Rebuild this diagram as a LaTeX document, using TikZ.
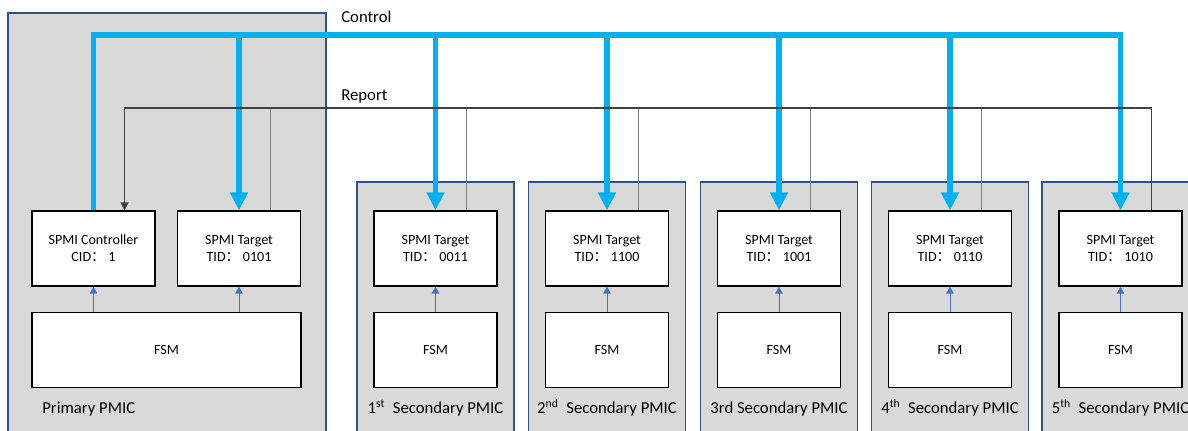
\documentclass[tikz,border=0pt]{standalone}
\usepackage{fontspec}
\setmainfont{Carlito}
\newfontfamily\cjk{Noto Sans CJK SC}
\usetikzlibrary{arrows.meta, positioning, calc}
\definecolor{busblue}{RGB}{0,176,240}
\definecolor{fsmblue}{RGB}{68,114,196}
\definecolor{pmicgray}{RGB}{217,217,217}
\definecolor{pmicedge}{RGB}{47,82,143}
\newcommand{\idsep}{{\cjk ：}}

\tikzset{
  pmicbox/.style={draw=pmicedge, fill=pmicgray, line width=0.6pt},
  blockbox/.style={draw, fill=white, line width=0.7pt, minimum width=2.46cm,
    minimum height=1.5cm, align=center, font=\fontsize{8}{9.5}\selectfont},
  pmiclabel/.style={font=\fontsize{9.5}{11}\selectfont, inner sep=0pt},
  ctrlbus/.style={busblue, line width=3.4pt, line join=miter},
  rptbus/.style={black!75, line width=0.6pt},
  rptdrop/.style={black!50, line width=0.6pt},
  fsmarrow/.style={fsmblue, line width=0.5pt, -{Triangle[length=0.14cm, width=0.15cm]}}
}

\begin{document}
\begin{tikzpicture}[x=0.02cm, y=-0.02cm]
  \useasboundingbox (0,0) rectangle (1188,431);
  \clip (0,0) rectangle (1188,431);
  % Primary PMIC
  \draw[pmicbox] (8,13) rectangle (326,445);
  \node[blockbox] (ctlr) at (93.5,248.5) {SPMI Controller\\CID\idsep\ 1};
  \node[blockbox] (tgt0) at (239,248.5) {SPMI Target\\TID\idsep\ 0101};
  \node[blockbox, minimum width=5.38cm] (fsm0) at (166.5,350) {FSM};
  \node[pmiclabel, anchor=base west] (lbl0) at (42,414) {Primary PMIC};
  \draw[fsmarrow] (fsm0.north -| ctlr.south) -- (ctlr.south);
  \draw[fsmarrow] (fsm0.north -| tgt0.south) -- (tgt0.south);
  % Secondary PMICs
  \foreach \i/\cx/\tid/\lbl in {1/435.5/0011/{1\textsuperscript{st}\ \ Secondary PMIC},
      2/607/1100/{2\textsuperscript{nd}\ \ Secondary PMIC},
      3/779/1001/{3rd Secondary PMIC},
      4/950/0110/{4\textsuperscript{th}\ \ Secondary PMIC},
      5/1120.5/1010/{5\textsuperscript{th}\ \ Secondary PMIC}}{
    \draw[pmicbox] (\cx-78.5,182) rectangle (\cx+78.5,445);
    \node[blockbox] (tgt\i) at (\cx,248.5) {SPMI Target\\TID\idsep\ \tid};
    \node[blockbox] (fsm\i) at (\cx,350) {FSM};
    \node[pmiclabel, anchor=base] (lbl\i) at (\cx,414) {\lbl};
    \draw[fsmarrow] (fsm\i.north) -- (tgt\i.south);
  }
  % Control bus
  \coordinate (cbus) at (0,35);
  \coordinate (rbus) at (0,108);
  \node[pmiclabel, anchor=west] (ctrllabel) at (341,17) {Control};
  \node[pmiclabel, anchor=west] (rptlabel) at (341,96) {Report};
  \draw[ctrlbus, -{Triangle[length=0.36cm, width=0.34cm]}]
    (ctlr.north) -- (ctlr.north |- cbus) -- (tgt5.north |- cbus) -- (tgt5.north);
  \foreach \i in {0,...,4}
    \draw[ctrlbus, -{Triangle[length=0.36cm, width=0.34cm]}] (tgt\i.north |- cbus) -- (tgt\i.north);
  % Report bus
  \coordinate (rin) at ($(ctlr.north)!0.5!(ctlr.north east)$);
  \foreach \i in {0,...,5}
    \coordinate (rout\i) at ($(tgt\i.north)!0.5!(tgt\i.north east)$);
  \foreach \i in {0,...,4}
    \draw[rptdrop] (rout\i) -- (rout\i |- rbus);
  \draw[rptbus, -{Triangle[length=0.16cm, width=0.16cm]}]
    (rout5) -- (rout5 |- rbus) -- (rin |- rbus) -- (rin);
\end{tikzpicture}
\end{document}
